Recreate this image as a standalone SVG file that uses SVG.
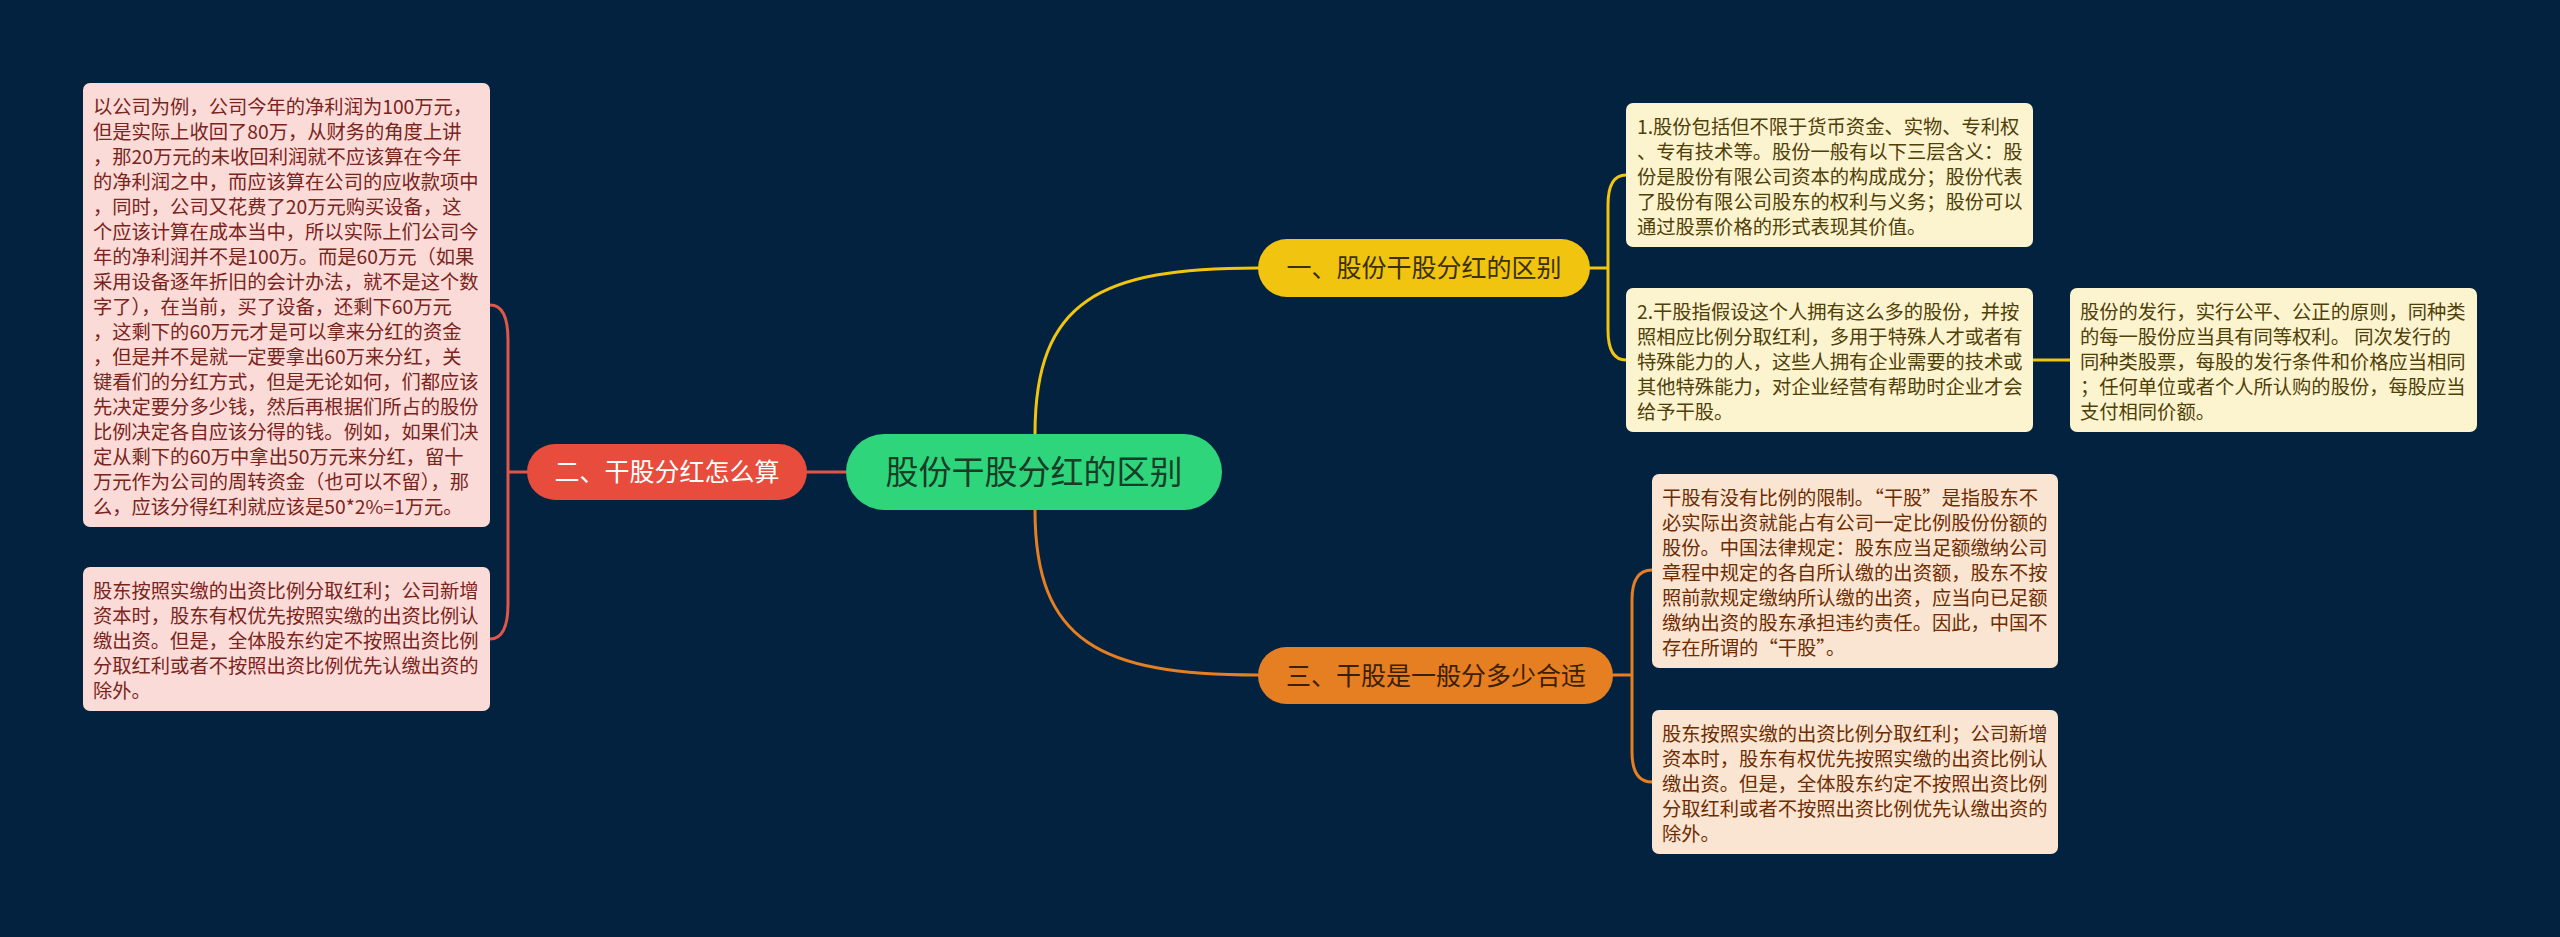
<svg xmlns="http://www.w3.org/2000/svg" width="2560" height="937" viewBox="0 0 2560 937">
<style>
.bg{fill:#03223f}
.t{font-family:"Noto Sans CJK SC","Noto Sans",sans-serif}
.main{font-size:33px;fill:#173d28;text-anchor:middle}
.l1{font-size:25px;text-anchor:middle}
.box{font-size:19.3px}
.pink{fill:#fadbd8}
.pinkt{fill:#7b241c}
.yel{fill:#fcf3cf}
.yelt{fill:#4f4008}
.ora{fill:#fae5d3}
.orat{fill:#6e2c00}
.c{fill:none;stroke-width:3;stroke-linecap:round}
.cr{stroke:#e0574a}
.cy{stroke:#f1c40f}
.co{stroke:#e67e22}
</style>
<rect class="bg" x="0" y="0" width="2560" height="937"/>
<g id="connectors">
<path class="c cr" d="M846 472 L807 472"/>
<path class="c cr" d="M527 472 L508 472 M508 472 L508 340 Q508 305 490 305 M508 472 L508 604 Q508 639 490 639"/>
<path class="c cy" d="M1035 434 C1035 300 1100 268 1258 268"/>
<path class="c cy" d="M1590 268 L1608 268 M1608 268 L1608 205 Q1608 175 1626 175 M1608 268 L1608 330 Q1608 360 1626 360"/>
<path class="c cy" d="M2033 360 L2070 360"/>
<path class="c co" d="M1035 510 C1035 642 1100 675 1258 675"/>
<path class="c co" d="M1613 675 L1632 675 M1632 675 L1632 600 Q1632 570 1652 570 M1632 675 L1632 752 Q1632 782 1652 782"/>
</g>
<g id="center">
<rect x="846" y="434" width="376" height="76" rx="38" fill="#2fd57a"/>
<text class="t main" x="1034" y="484">股份干股分红的区别</text>
</g>
<g id="n2">
<rect x="527" y="444" width="280" height="56" rx="28" fill="#e74c3c"/>
<text class="t l1" x="667" y="481" fill="#ffffff">二、干股分红怎么算</text>
</g>
<g id="n1">
<rect x="1258" y="239" width="332" height="58" rx="29" fill="#f1c40f"/>
<text class="t l1" x="1424" y="277" fill="#3b3000">一、股份干股分红的区别</text>
</g>
<g id="n3">
<rect x="1258" y="647" width="355" height="57" rx="28.5" fill="#e67e22"/>
<text class="t l1" x="1436" y="685" fill="#3b2000">三、干股是一般分多少合适</text>
</g>
<g id="box1">
<rect class="pink" x="83" y="83" width="407" height="444" rx="7"/>
<text class="t box pinkt">
<tspan x="93" y="114">以公司为例，公司今年的净利润为100万元，</tspan>
<tspan x="93" y="139">但是实际上收回了80万，从财务的角度上讲</tspan>
<tspan x="93" y="164">，那20万元的未收回利润就不应该算在今年</tspan>
<tspan x="93" y="189">的净利润之中，而应该算在公司的应收款项中</tspan>
<tspan x="93" y="214">，同时，公司又花费了20万元购买设备，这</tspan>
<tspan x="93" y="239">个应该计算在成本当中，所以实际上们公司今</tspan>
<tspan x="93" y="264">年的净利润并不是100万。而是60万元（如果</tspan>
<tspan x="93" y="289">采用设备逐年折旧的会计办法，就不是这个数</tspan>
<tspan x="93" y="314">字了），在当前，买了设备，还剩下60万元</tspan>
<tspan x="93" y="339">，这剩下的60万元才是可以拿来分红的资金</tspan>
<tspan x="93" y="364">，但是并不是就一定要拿出60万来分红，关</tspan>
<tspan x="93" y="389">键看们的分红方式，但是无论如何，们都应该</tspan>
<tspan x="93" y="414">先决定要分多少钱，然后再根据们所占的股份</tspan>
<tspan x="93" y="439">比例决定各自应该分得的钱。例如，如果们决</tspan>
<tspan x="93" y="464">定从剩下的60万中拿出50万元来分红，留十</tspan>
<tspan x="93" y="489">万元作为公司的周转资金（也可以不留），那</tspan>
<tspan x="93" y="514">么，应该分得红利就应该是50*2%=1万元。</tspan>
</text>
</g>
<g id="box2">
<rect class="pink" x="83" y="567" width="407" height="144" rx="7"/>
<text class="t box pinkt">
<tspan x="93" y="598">股东按照实缴的出资比例分取红利；公司新增</tspan>
<tspan x="93" y="623">资本时，股东有权优先按照实缴的出资比例认</tspan>
<tspan x="93" y="648">缴出资。但是，全体股东约定不按照出资比例</tspan>
<tspan x="93" y="673">分取红利或者不按照出资比例优先认缴出资的</tspan>
<tspan x="93" y="698">除外。</tspan>
</text>
</g>
<g id="boxA">
<rect class="yel" x="1626" y="103" width="407" height="144" rx="7"/>
<text class="t box yelt">
<tspan x="1637" y="134">1.股份包括但不限于货币资金、实物、专利权</tspan>
<tspan x="1637" y="159">、专有技术等。股份一般有以下三层含义：股</tspan>
<tspan x="1637" y="184">份是股份有限公司资本的构成成分；股份代表</tspan>
<tspan x="1637" y="209">了股份有限公司股东的权利与义务；股份可以</tspan>
<tspan x="1637" y="234">通过股票价格的形式表现其价值。</tspan>
</text>
</g>
<g id="boxB">
<rect class="yel" x="1626" y="288" width="407" height="144" rx="7"/>
<text class="t box yelt">
<tspan x="1637" y="319">2.干股指假设这个人拥有这么多的股份，并按</tspan>
<tspan x="1637" y="344">照相应比例分取红利，多用于特殊人才或者有</tspan>
<tspan x="1637" y="369">特殊能力的人，这些人拥有企业需要的技术或</tspan>
<tspan x="1637" y="394">其他特殊能力，对企业经营有帮助时企业才会</tspan>
<tspan x="1637" y="419">给予干股。</tspan>
</text>
</g>
<g id="boxC">
<rect class="yel" x="2070" y="288" width="407" height="144" rx="7"/>
<text class="t box yelt">
<tspan x="2080" y="319">股份的发行，实行公平、公正的原则，同种类</tspan>
<tspan x="2080" y="344">的每一股份应当具有同等权利。 同次发行的</tspan>
<tspan x="2080" y="369">同种类股票，每股的发行条件和价格应当相同</tspan>
<tspan x="2080" y="394">；任何单位或者个人所认购的股份，每股应当</tspan>
<tspan x="2080" y="419">支付相同价额。</tspan>
</text>
</g>
<g id="boxD">
<rect class="ora" x="1652" y="474" width="406" height="194" rx="7"/>
<text class="t box orat">
<tspan x="1662" y="505">干股有没有比例的限制。“干股”是指股东不</tspan>
<tspan x="1662" y="530">必实际出资就能占有公司一定比例股份份额的</tspan>
<tspan x="1662" y="555">股份。中国法律规定：股东应当足额缴纳公司</tspan>
<tspan x="1662" y="580">章程中规定的各自所认缴的出资额，股东不按</tspan>
<tspan x="1662" y="605">照前款规定缴纳所认缴的出资，应当向已足额</tspan>
<tspan x="1662" y="630">缴纳出资的股东承担违约责任。因此，中国不</tspan>
<tspan x="1662" y="655">存在所谓的“干股”。</tspan>
</text>
</g>
<g id="boxE">
<rect class="ora" x="1652" y="710" width="406" height="144" rx="7"/>
<text class="t box orat">
<tspan x="1662" y="741">股东按照实缴的出资比例分取红利；公司新增</tspan>
<tspan x="1662" y="766">资本时，股东有权优先按照实缴的出资比例认</tspan>
<tspan x="1662" y="791">缴出资。但是，全体股东约定不按照出资比例</tspan>
<tspan x="1662" y="816">分取红利或者不按照出资比例优先认缴出资的</tspan>
<tspan x="1662" y="841">除外。</tspan>
</text>
</g>
</svg>
